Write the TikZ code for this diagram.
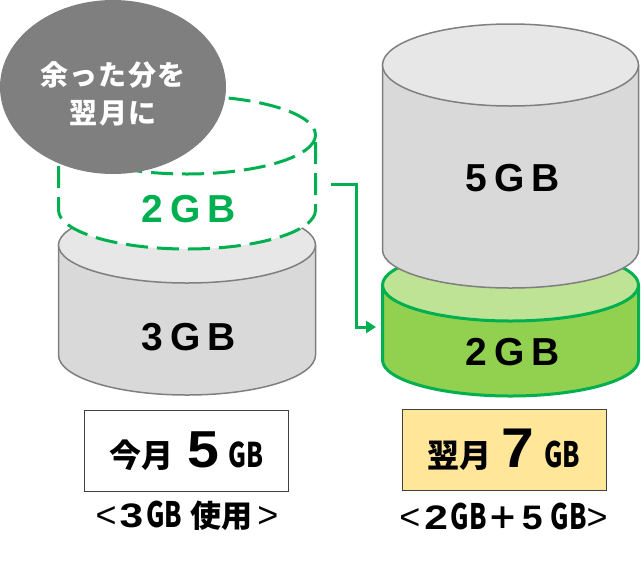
\documentclass[tikz,border=0pt]{standalone}
\usepackage{fontspec}
\setmainfont{Noto Sans CJK JP}
\newfontfamily\arialfont{Liberation Sans}
\usetikzlibrary{arrows.meta,shapes.geometric}
\definecolor{leafgreen}{HTML}{00B050}
\definecolor{drumgray}{HTML}{D9D9D9}
\definecolor{topgray}{HTML}{E7E7E7}
\definecolor{edgegray}{HTML}{7F7F7F}
\definecolor{boxedge}{HTML}{404040}
\definecolor{drumgreen}{HTML}{92D050}
\definecolor{topgreen}{HTML}{BEE395}
\definecolor{boxyellow}{HTML}{FFE699}
\newcommand{\thinGB}[1]{\scalebox{0.72}[1]{\fontsize{#1}{#1}\selectfont GB}}
\newcommand{\bigdigit}[3]{\scalebox{#1}[1]{\arialfont\fontsize{#2}{#2}\selectfont\bfseries #3}}
\newcommand{\sidemark}[1]{{\arialfont\fontsize{36}{36}\selectfont\mdseries #1}}
\tikzset{
	graydrum/.style={draw=edgegray,line width=1.5pt,fill=drumgray},
	graytop/.style={draw=edgegray,line width=1.5pt,fill=topgray},
	greendrum/.style={draw=leafgreen,line width=3pt,fill=drumgreen},
	greentop/.style={draw=leafgreen,line width=3pt,fill=topgreen},
	dashdrum/.style={draw=leafgreen,line width=3pt,dash pattern=on 22pt off 9pt},
	gblabel/.style={inner sep=0pt,font=\arialfont\fontsize{39}{39}\selectfont\bfseries\addfontfeatures{LetterSpace=18}},
	sumbox/.style={draw=boxedge,line width=1pt,minimum width=204pt,minimum height=81pt,inner sep=0pt,
		font=\fontsize{32}{32}\selectfont\bfseries},
	sublabel/.style={inner sep=0pt,font=\fontsize{31}{31}\selectfont\bfseries}
}
\begin{document}
\begin{tikzpicture}[x=1pt,y=-1pt]
\useasboundingbox (0,0) rectangle (642,571);
% left drum, what is used
\draw[graydrum] (58.5,245) -- (58.5,355) arc [start angle=180,end angle=0,x radius=128.5,y radius=40] -- (315.5,245);
\draw[graytop] (187,245) ellipse [x radius=128.5,y radius=38];
% left drum, what is left over
\fill[white] (58.5,135) -- (58.5,210) arc [start angle=180,end angle=0,x radius=128.5,y radius=39] -- (315.5,135) -- cycle;
\draw[dashdrum] (58.5,135) -- (58.5,210) arc [start angle=180,end angle=0,x radius=128.5,y radius=39] -- (315.5,135);
\draw[dashdrum] (187,135) ellipse [x radius=128.5,y radius=39];
\node[fill=edgegray,ellipse,minimum width=226pt,minimum height=174pt,inner sep=0pt] (bubble) at (113,87) {};
\node[inner sep=0pt,align=center,text=white,font=\fontsize{28}{38}\selectfont\bfseries\addfontfeatures{LetterSpace=4}]
	(bubbletext) at ([yshift=-7pt]bubble.center) {余った分を\\翌月に};
% right drums
\draw[greendrum] (382.5,285) -- (382.5,360) arc [start angle=180,end angle=0,x radius=128,y radius=36] -- (638.5,285);
\draw[greentop] (510.5,285) ellipse [x radius=128,y radius=36];
\draw[graydrum] (382.5,65) -- (382.5,250) arc [start angle=180,end angle=0,x radius=128,y radius=38] -- (638.5,65);
\draw[graytop] (510.5,65) ellipse [x radius=128,y radius=41];
% labels
\node[gblabel,text=leafgreen] (leftover) at (189,209) {2GB};
\node[gblabel] (usedgb) at (189,337) {3GB};
\node[gblabel] (plangb) at (513,178) {5GB};
\node[gblabel] (carrygb) at (513,352) {2GB};
\node[sumbox,fill=white] (thismonth) at (186.5,451) {今月\kern14pt\bigdigit{1.1}{52}{5}\kern10pt\thinGB{34}};
\node[sumbox,fill=boxyellow] (nextmonth) at (504,450) {翌月\kern10pt\bigdigit{1.05}{56}{7}\kern10pt\thinGB{35}};
\node[sublabel] (usednote) at (187,516) {\sidemark{<}\kern3pt\bigdigit{1.25}{34}{3}\kern3pt\thinGB{35}\kern8pt 使用\kern5pt\sidemark{>}};
\node[sublabel] (sumnote) at (503.5,516) {\sidemark{<}\kern4pt\bigdigit{1.25}{34}{2}\kern3pt\thinGB{35}\kern1pt＋\kern3pt\bigdigit{1.1}{34}{5}\kern8pt\thinGB{35}\kern0pt\sidemark{>}};
% carry over
\coordinate (carryfrom) at (331,184);
\coordinate (carryto) at (376,327);
\draw[leafgreen,line width=3pt,-{Triangle[length=10pt,width=12pt]}] (carryfrom) -- (356,184) -- (356,327) -- (carryto);
\end{tikzpicture}
\end{document}
